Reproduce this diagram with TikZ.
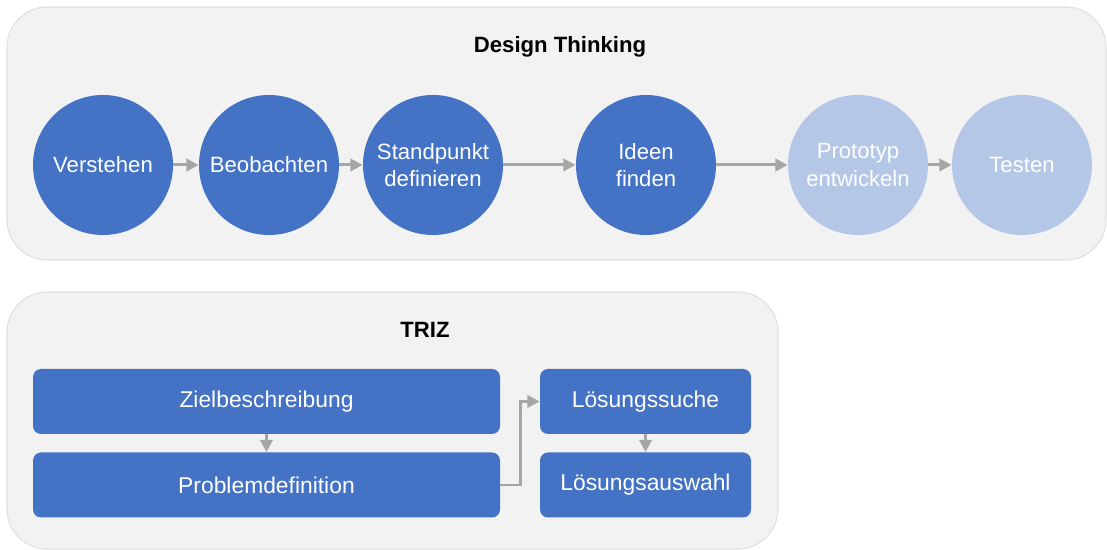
\documentclass[tikz,border=0pt]{standalone}
\usepackage{fontspec}
\setmainfont{Liberation Sans}
\usepackage{xcolor}
\usetikzlibrary{arrows.meta}

\definecolor{stepblue}{HTML}{4472C4}
\definecolor{stepfaded}{HTML}{B4C7E7}
\definecolor{panelgray}{HTML}{F2F2F2}
\definecolor{flowgray}{HTML}{A6A6A6}

\begin{document}
\begin{tikzpicture}[
  panel/.style={fill=panelgray,draw=black!12,line width=0.6pt,rounded corners=0.8cm},
  heading/.style={font=\fontsize{12.6}{15}\selectfont\bfseries},
  phase/.style={circle,fill=stepblue,minimum size=2.8cm,inner sep=0pt,align=center,
    text=white,font=\fontsize{12.6}{15.4}\selectfont},
  later/.style={phase,fill=stepfaded},
  stepbox/.style={rounded corners=0.16cm,fill=stepblue,minimum height=1.3cm,inner sep=0pt,
    text=white,font=\fontsize{13}{15}\selectfont},
  flow/.style={draw=flowgray,line width=1.7pt,-{Triangle[length=7pt,width=7pt]}}
]
\useasboundingbox (0,0) rectangle (22.14,11);

% Design Thinking
\draw [panel] (0.14,5.8) rectangle (22.12,10.86);
\node [heading] (dt) at (11.2,10.06) {Design Thinking};

\node [phase] (verst) at (2.06,7.7) {Verstehen};
\node [phase] (beob) at (5.38,7.7) {Beobachten};
\node [phase] (stand) at (8.66,7.7) {Standpunkt\\definieren};
\node [phase] (ideen) at (12.92,7.7) {Ideen\\finden};
\node [later] (proto) at (17.16,7.7) {Prototyp\\entwickeln};
\node [later] (test) at (20.44,7.7) {Testen};

\draw [flow] (verst) -- (beob);
\draw [flow] (beob) -- (stand);
\draw [flow] (stand) -- (ideen);
\draw [flow] (ideen) -- (proto);
\draw [flow] (proto) -- (test);

% TRIZ
\draw [panel] (0.14,0.02) rectangle (15.56,5.16);
\node [heading] (triz) at (8.5,4.4) {TRIZ};

\node [stepbox,minimum width=9.34cm] (ziel) at (5.33,2.97) {Zielbeschreibung};
\node [stepbox,minimum width=9.34cm] (prob) at (5.33,1.3) {Problemdefinition};
\node [stepbox,minimum width=4.22cm] (such) at (12.91,2.97) {Lösungssuche};
\node [stepbox,minimum width=4.22cm] (ausw) at (12.91,1.3) {Lösungsauswahl};

\draw [flow] (ziel) -- (prob);
\draw [flow] (such) -- (ausw);
\draw [flow] (prob.east) -- ++(0.4,0) |- (such.west);
\end{tikzpicture}
\end{document}
